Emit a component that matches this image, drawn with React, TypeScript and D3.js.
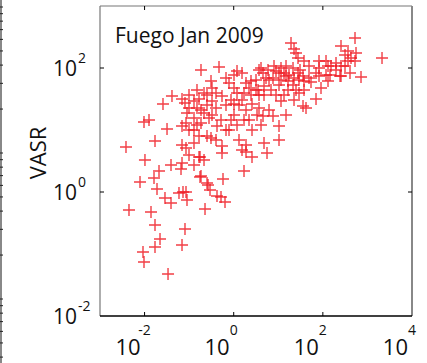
import React from 'react';
import * as d3 from 'd3';

const title = 'Fuego Jan 2009';
const yLabel = 'VASR';
const xTickExps = [-2, 0, 2, 4];
const yTickExps = [-2, 0, 2];

const xValues = [
  0.0412, 0.0692, 0.0259, 0.0807, 0.01257, 0.00971, 0.0319, 0.0692, 0.01714, 0.00383,
  0.0692, 0.0102, 0.02108, 0.0392, 0.0692, 0.0657, 0.01628, 0.0079, 0.01901, 0.0287,
  0.0392, 0.0592, 0.0728, 0.0895, 0.00447, 0.01394, 0.01714, 0.0807, 0.0222, 0.01714,
  0.0692, 0.00922, 0.00971, 0.0336, 0.1753, 0.265, 0.294, 0.4217, 0.227, 0.1753,
  0.0993, 0.1665, 0.2156, 0.1285, 0.5462, 1.887, 2.573, 1.702, 0.1845, 0.575,
  0.2517, 0.5187, 0.6377, 0.085, 0.1845, 0.4677, 1.186, 1.535, 3.694, 0.3094,
  0.6716, 0.784, 0.15, 0.2156, 0.0993, 1.015, 2.203, 3.164, 2.443, 3.694,
  0.1665, 0.1285, 0.3257, 0.8694, 1.535, 0.2517, 1.314, 2.573, 0.15, 0.4005,
  1.887, 0.0895, 0.2156, 1.015, 3.332, 0.1285, 0.279, 0.5187, 0.085, 0.1845,
  0.4217, 1.186, 0.784, 0.2517, 0.3094, 0.1285, 1.314, 0.5462, 0.085, 1.887,
  1.535, 19.3, 22.54, 24.99, 27.7, 37.77, 81.98, 117.7, 130.5, 4.097,
  8.017, 11.51, 21.4, 48.91, 81.98, 4.542, 8.89, 13.44, 17.4, 27.7,
  35.87, 70.21, 117.7, 7.613, 11.51, 16.53, 29.17, 37.77, 130.5, 4.783,
  10.38, 21.4, 3.508, 6.866, 16.53, 4.783, 8.89, 22.54, 11.51, 70.21,
  35.87, 41.88, 3.694, 6.193, 14.91, 4.542, 7.613, 4.097, 10.38, 4.783,
  10.38, 5.585, 526.5, 255.4, 366.8, 314.2, 554.4, 428.3, 366.8, 2125,
  197.3, 255.4, 152.4, 144.7, 242.6, 406.7, 718.0, 0.0993, 0.1665, 0.4005,
  0.8694, 2.203, 13.44, 24.99, 6.193, 14.91, 48.91, 81.98, 2.443, 1.015,
  0.3257, 0.5462, 1.702, 0.1845, 5.88, 14.91, 30.72, 54.22, 197.3, 314.2,
  22.54, 10.38, 5.304, 3.164, 1.887, 1.186, 0.6716, 1.015, 0.4005, 0.2517,
  0.0993, 0.3257, 0.15, 0.1285, 0.6716, 1.702, 2.573, 29.17, 37.77, 90.9,
  255.4, 526.5,
];

const yValues = [
  35.35, 31.62, 26.27, 27.26, 14.5, 13.46, 10.38, 11.6, 6.647, 5.318,
  5.73, 3.282, 2.181, 2.726, 2.936, 2.35, 1.682, 1.45, 1.118, 0.8003,
  0.6647, 0.9636, 1.0, 0.743, 0.5125, 0.4758, 0.2936, 0.2531, 0.1745, 0.1297,
  0.1397, 0.1077, 0.0743, 0.0476, 1.746, 1.297, 1.077, 0.862, 0.5318, 3.668,
  3.952, 3.668, 3.282, 2.726, 4.256, 4.418, 3.668, 2.181, 1.812, 1.621,
  1.397, 0.8306, 0.6898, 1.0, 92.83, 103.8, 89.45, 83.06, 92.83, 61.7,
  68.97, 57.29, 44.18, 39.53, 36.69, 47.58, 47.58, 44.18, 36.69, 36.69,
  31.62, 29.36, 29.36, 30.47, 30.47, 25.31, 25.31, 26.27, 22.64, 22.64,
  21.02, 18.8, 18.8, 17.46, 17.46, 15.62, 15.62, 14.5, 12.97, 12.97,
  11.6, 12.04, 10.0, 8.001, 7.43, 6.171, 6.898, 5.52, 5.125, 5.73,
  4.758, 253.1, 202.5, 174.5, 145.0, 129.7, 129.7, 129.7, 107.7, 100,
  107.7, 100, 100, 107.7, 100, 83.06, 89.45, 83.06, 77.13, 83.06,
  74.3, 83.06, 77.13, 68.97, 64.04, 61.7, 64.04, 61.7, 61.7, 51.26,
  53.19, 53.19, 44.18, 44.18, 44.18, 36.69, 36.69, 30.47, 29.36, 31.62,
  24.39, 22.64, 22.64, 21.02, 17.46, 16.82, 16.82, 12.04, 11.6, 6.171,
  6.898, 4.256, 304.7, 226.3, 188.1, 162.0, 174.5, 145.0, 129.7, 145.0,
  120.4, 107.7, 107.7, 77.13, 74.3, 83.06, 71.58, 10.0, 8.001, 6.898,
  14.5, 14.5, 36.69, 44.18, 64.04, 74.3, 68.97, 74.3, 61.7, 77.13,
  47.58, 35.35, 39.53, 21.02, 92.83, 107.7, 92.83, 59.46, 92.83, 107.7,
  68.97, 83.06, 68.97, 64.04, 57.29, 39.53, 25.31, 26.27, 39.53, 36.69,
  22.64, 17.46, 12.04, 10.0, 10.0, 14.5, 10.0, 39.53, 44.18, 47.58,
  74.3, 129.7,
];

const W = 427;
const H = 363;
const plot = { left: 100, right: 412, top: 6, bottom: 316 };
const font = '"Open Sans", "Noto Sans", sans-serif';

export default function App() {
  const x = d3.scaleLog().domain([1e-3, 1e4]).range([plot.left, plot.right]);
  const y = d3.scaleLog().domain([1e-2, 1e3]).range([plot.bottom, plot.top]);
  // neighbouring (cut-off) axis at the left edge
  const edge = d3.scaleLog().domain([0.1, 100]).range([445, 7]);
  const edgeTicks = edge.ticks().filter((t) => edge(t) >= 0 && edge(t) <= H);

  const pts = xValues.map((v, i) => [x(v), y(yValues[i])]);
  const arm = 6;
  const tickLen = 4;

  return (
    <svg
      width={W}
      height={H}
      style={{ position: 'fixed', left: 0, top: 0, background: '#fff' }}
      fontFamily={font}
    >
      <rect x={0} y={0} width={W} height={H} fill="#fff" />
      <line x1={1} y1={0} x2={1} y2={H} stroke="#888" strokeWidth={2} />
      {edgeTicks.map((t, i) => (
        <line key={'e' + i} x1={0} x2={3} y1={edge(t)} y2={edge(t)} stroke="#222" strokeWidth={1} />
      ))}

      <g stroke="#ee1c25" strokeOpacity={0.85} strokeWidth={1.4} fill="none">
        {pts.map(([px, py], i) => (
          <path key={i} d={`M${px - arm},${py}h${arm * 2}M${px},${py - arm}v${arm * 2}`} />
        ))}
      </g>

      <line x1={plot.left} x2={plot.right} y1={plot.top} y2={plot.top} stroke="#777" strokeWidth={1.2} />
      <line x1={plot.left} x2={plot.left} y1={plot.top} y2={plot.bottom} stroke="#777" strokeWidth={1.2} />
      <line x1={plot.right} x2={plot.right} y1={plot.top} y2={plot.bottom} stroke="#888" strokeWidth={2} />
      <line x1={plot.left} x2={plot.right} y1={plot.bottom} y2={plot.bottom} stroke="#000" strokeWidth={1.4} />

      {xTickExps.map((e) => {
        const px = x(Math.pow(10, e));
        return (
          <g key={'xt' + e}>
            {e < 4 && (
              <>
                <line x1={px} x2={px} y1={plot.bottom} y2={plot.bottom - tickLen} stroke="#000" />
                <line x1={px} x2={px} y1={plot.top} y2={plot.top + tickLen} stroke="#000" />
              </>
            )}
            <text x={px - 4} y={355} textAnchor="end" fontSize={22} fill="#111">10</text>
            <text x={px} y={335} textAnchor="middle" fontSize={14} fill="#111">{e < 0 ? '-' + Math.abs(e) : String(e)}</text>
          </g>
        );
      })}

      {yTickExps.map((e) => {
        const py = y(Math.pow(10, e));
        return (
          <g key={'yt' + e}>
            {e > -2 && (
              <>
                <line x1={plot.left} x2={plot.left + tickLen} y1={py} y2={py} stroke="#000" />
                <line x1={plot.right} x2={plot.right - tickLen} y1={py} y2={py} stroke="#000" />
              </>
            )}
            <text x={77} y={py + 8} textAnchor="end" fontSize={21} fill="#111">10</text>
            <text x={78} y={py - 5} textAnchor="start" fontSize={14} fill="#111">{e < 0 ? '-' + Math.abs(e) : String(e)}</text>
          </g>
        );
      })}

      <text transform="translate(46,153) rotate(-90)" textAnchor="middle" fontSize={22} fill="#111">{yLabel}</text>
      <text x={115} y={43} fontSize={21} fill="#111">{title}</text>
    </svg>
  );
}
